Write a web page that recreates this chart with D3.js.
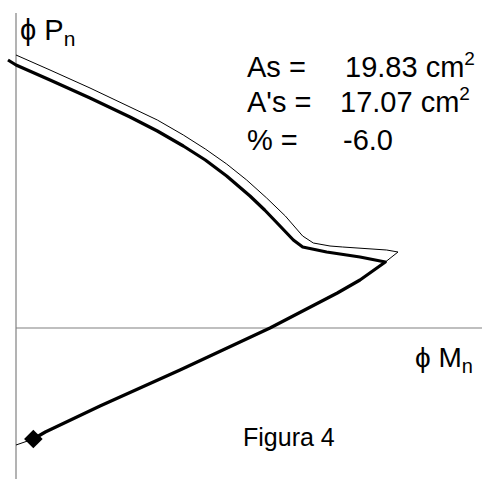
<!DOCTYPE html>
<html>
<head>
<meta charset="utf-8">
<script src="https://cdn.jsdelivr.net/npm/d3@7"></script>
<style>
  body { margin: 0; background: #fff; }
  svg { display: block; }
  text { font-family: "Liberation Sans", Arial, sans-serif; fill: #000; }
</style>
</head>
<body>
<div id="viz"></div>
<script>
var width = 482;
var height = 479;

// nominal diagram (thin line): M (kN.m), P (kN)
var nomM = [0, 51, 111, 171, 212, 251, 284, 316, 346, 376, 404, 430, 446, 471, 490, 556, 573, 554, 516, 482, 381, 246, 126, 44, 26, 0];
var nomP = [5460, 5160, 4800, 4420, 4160, 3860, 3580, 3280, 2960, 2600, 2240, 1840, 1700, 1640, 1620, 1560, 1520, 1320, 960, 700, 0, -840, -1560, -2080, -2220, -2340];

// design diagram (thick line)
var desM = [-12, 0, 51, 111, 171, 212, 251, 284, 316, 351, 373, 396, 416, 430, 466, 516, 554, 516, 482, 381, 246, 126, 44, 26];
var desP = [5360, 5260, 4960, 4600, 4220, 3940, 3640, 3360, 3040, 2640, 2360, 2040, 1760, 1620, 1520, 1420, 1320, 960, 700, 0, -840, -1560, -2080, -2220];

// marked point
var markM = [26];
var markP = [-2220];

var textLines = [
    {label: "As =", value: "19.83 cm", sup: "2"},
    {label: "A's =", value: "17.07 cm", sup: "2"},
    {label: "% =", value: "-6.0", sup: ""}
];
var caption = "Figura 4";

var x = d3.scaleLinear().domain([0, 699]).range([16, 482]);
var y = d3.scaleLinear().domain([-3020, 6300]).range([479, 13]);

var svg = d3.select("#viz").append("svg").attr("width", width).attr("height", height);

// axes
svg.append("line")
    .attr("x1", x(0)).attr("x2", x(0))
    .attr("y1", y(6300)).attr("y2", y(-3020))
    .attr("stroke", "#808080").attr("stroke-width", 1.2);
svg.append("line")
    .attr("x1", x(0)).attr("x2", x(699))
    .attr("y1", y(0)).attr("y2", y(0))
    .attr("stroke", "#808080").attr("stroke-width", 1.2);

var line = d3.line()
    .x(function (d) { return x(d[0]); })
    .y(function (d) { return y(d[1]); });

var nom = nomM.map(function (m, i) { return [m, nomP[i]]; });
var des = desM.map(function (m, i) { return [m, desP[i]]; });

svg.append("path")
    .attr("d", line(nom))
    .attr("fill", "none")
    .attr("stroke", "#000")
    .attr("stroke-width", 1)
    .attr("stroke-linejoin", "round");

svg.append("path")
    .attr("d", line(des))
    .attr("fill", "none")
    .attr("stroke", "#000")
    .attr("stroke-width", 3.2)
    .attr("stroke-linejoin", "round");

svg.selectAll(".mark")
    .data(markM)
    .enter()
    .append("path")
    .attr("class", "mark")
    .attr("d", d3.symbol().type(d3.symbolDiamond2).size(220))
    .attr("transform", function (d, i) { return "translate(" + x(d) + "," + y(markP[i]) + ")"; })
    .attr("fill", "#000");

function label(px, py, size) {
    return svg.append("text")
        .attr("x", px).attr("y", py)
        .style("font-size", size + "px");
}

var t = label(20, 40, 29);
t.append("tspan").text("\u03D5 P");
t.append("tspan").attr("dy", 6).style("font-size", "21px").text("n");

var t2 = label(415, 367, 28);
t2.append("tspan").text("\u03D5 M");
t2.append("tspan").attr("dy", 6).style("font-size", "20px").text("n");

var lineY = [77, 112, 150];
var valueX = [345, 340, 343];
textLines.forEach(function (d, i) {
    label(247, lineY[i], 29).text(d.label);
    var v = label(valueX[i], lineY[i], 29);
    v.append("tspan").text(d.value);
    if (d.sup) {
        v.append("tspan").attr("dy", -12).style("font-size", "19px").text(d.sup);
    }
});

label(243, 446, 25).text(caption);
</script>
</body>
</html>
